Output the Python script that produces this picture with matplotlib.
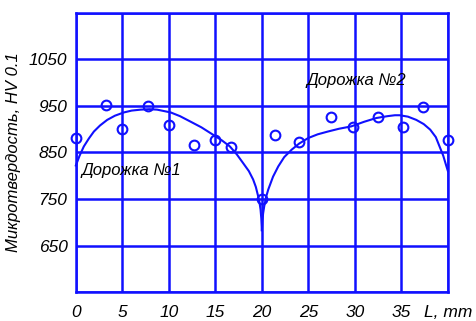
import matplotlib
matplotlib.use("Agg")
import matplotlib.pyplot as plt

plt.rcParams['font.family'] = ['Liberation Sans', 'DejaVu Sans']

# measured hardness points
pts_x = [0, 3.2, 5, 7.8, 10, 12.7, 15, 16.7, 20, 21.4, 24, 27.4, 29.8, 32.5, 35.2, 37.3, 40]
pts_y = [882, 951, 901, 950, 908, 867, 877, 862, 750, 888, 872, 927, 905, 927, 905, 948, 877]

# fitted curve, track 1
fit1_x = [0, 0.4, 0.86, 1.4, 1.94, 2.6, 3.37, 4.2, 5.16, 6.0, 6.96, 7.9, 8.74,
          10.2, 11.2, 12.26, 13.5, 14.76, 15.7, 16.56, 17.3, 17.99, 18.6, 19.06,
          19.35, 19.6, 19.75, 19.86, 19.94, 20.0]
fit1_y = [822, 843, 863, 880, 895, 908, 920, 929, 936, 940, 942, 943, 942,
          936, 928, 917, 904, 888, 876, 863, 846, 827, 810, 792,
          776, 756, 742, 727, 708, 683]

# fitted curve, track 2
fit2_x = [20.0, 20.06, 20.14, 20.25, 20.45, 20.68, 21.2, 21.76, 22.4, 23.2, 24.0,
          24.98, 26.0, 27.1, 28.3, 29.6, 31.0, 32.3, 33.5, 34.3, 34.8, 35.7, 36.6,
          37.4, 38.1, 38.7, 39.1, 39.5, 39.8, 40.0]
fit2_y = [683, 705, 720, 734, 754, 770, 798, 820, 840, 856, 869,
          881, 889, 895, 901, 906, 916, 924, 928, 930, 930, 927, 920,
          911, 899, 883, 863, 843, 823, 810]

xticks = [0, 5, 10, 15, 20, 25, 30, 35, 40]
xlabels = ['0', '5', '10', '15', '20', '25', '30', '35', 'L, mm']
yticks = [550, 650, 750, 850, 950, 1050, 1150]
ylabels = ['', '650', '750', '850', '950', '1050', '']

blue = '#1010ff'

fig = plt.figure(figsize=(4.77, 3.21), dpi=100)
ax = fig.add_axes([0.159, 0.090, 0.780, 0.870])

ax.plot(fit1_x, fit1_y, color=blue, lw=1.5, clip_on=False)
ax.plot(fit2_x, fit2_y, color=blue, lw=1.5, clip_on=False)
ax.plot(pts_x, pts_y, 'o', ms=7, mfc='none', mec=blue, mew=1.5, clip_on=False)

ax.set_xlim(0, 40)
ax.set_ylim(550, 1150)
ax.set_xticks(xticks)
ax.set_xticklabels(xlabels)
ax.set_yticks(yticks)
ax.set_yticklabels(ylabels)
ax.grid(True, color=blue, lw=1.8)
ax.set_axisbelow(True)
for s in ax.spines.values():
    s.set_color(blue)
    s.set_linewidth(1.8)
ax.tick_params(length=0, labelsize=12.5, pad=9)
ax.tick_params(axis='y', pad=6)
for lab in ax.get_xticklabels() + ax.get_yticklabels():
    lab.set_style('italic')

ax.set_ylabel('Микротвердость, HV 0.1', fontsize=12, style='italic', labelpad=6)

ax.text(0.6, 812, 'Дорожка №1', fontsize=12, style='italic', va='center')
ax.text(24.8, 1005, 'Дорожка №2', fontsize=12, style='italic', va='center')

fig.savefig('out.png', dpi=100)
